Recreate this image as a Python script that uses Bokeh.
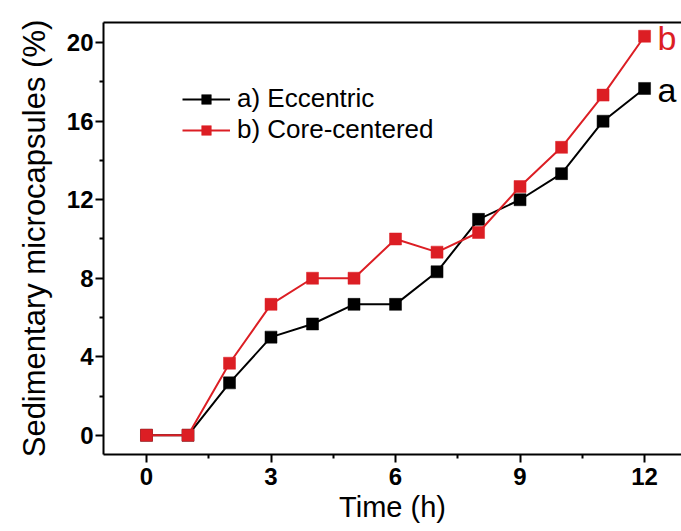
from bokeh.plotting import figure
from bokeh.models import LinearAxis, Range1d, FixedTicker, Legend, LegendItem, ColumnDataSource
from bokeh.core.properties import value
from bokeh.embed import file_html
from bokeh.resources import INLINE

# Data
time_h = [0, 1, 2, 3, 4, 5, 6, 7, 8, 9, 10, 11, 12]
eccentric = [0, 0, 2.67, 5.0, 5.67, 6.67, 6.67, 8.33, 11.0, 12.0, 13.33, 16.0, 17.67]
core_centered = [0, 0, 3.67, 6.67, 8.0, 8.0, 10.0, 9.33, 10.33, 12.67, 14.67, 17.33, 20.33]
x_ticks = [0, 3, 6, 9, 12]
y_ticks = [0, 4, 8, 12, 16, 20]
series_names = ["a) Eccentric", "b) Core-centered"]
end_labels = ["a", "b"]

BLACK = "#000000"
RED = "#dc1e24"
FONT = "Liberation Sans"

p = figure(width=681, height=531, output_backend="svg", toolbar_location=None,
           x_range=Range1d(-1.036, 12.89), y_range=Range1d(-0.98, 21.03),
           min_border_left=103, min_border_right=0, min_border_top=22, min_border_bottom=77)
p.outline_line_color = None
p.grid.visible = False
p.background_fill_color = "white"
p.border_fill_color = "white"

src_a = ColumnDataSource(dict(x=time_h, y=eccentric))
src_b = ColumnDataSource(dict(x=time_h, y=core_centered))

la = p.line("x", "y", source=src_a, line_color=BLACK, line_width=2)
sa = p.scatter("x", "y", source=src_a, marker="square", size=12, fill_color=BLACK, line_color=BLACK, line_width=0.5)
lb = p.line("x", "y", source=src_b, line_color=RED, line_width=2)
sb = p.scatter("x", "y", source=src_b, marker="square", size=12, fill_color=RED, line_color=RED, line_width=0.5)

# end labels
end_src = ColumnDataSource(dict(x=[time_h[-1], time_h[-1]], y=[eccentric[-1], core_centered[-1]],
                                t=end_labels, c=[BLACK, RED]))
p.text("x", "y", text="t", source=end_src, text_color="c", x_offset=13, y_offset=2,
       text_baseline="middle", text_align="left", text_font=value(FONT), text_font_size="34px")

# axes styling
for ax in (p.xaxis[0], p.yaxis[0]):
    ax.axis_line_width = 2
    ax.axis_line_color = BLACK
    ax.major_tick_line_width = 2
    ax.minor_tick_line_width = 2
    ax.major_tick_out = 8
    ax.major_tick_in = 0
    ax.minor_tick_out = 4
    ax.minor_tick_in = 0
    ax.major_label_text_font = FONT
    ax.major_label_text_font_style = "bold"
    ax.major_label_text_font_size = "24px"
    ax.major_label_text_color = BLACK
    ax.axis_label_text_font = FONT
    ax.axis_label_text_font_style = "normal"
    ax.axis_label_text_color = BLACK

p.xaxis[0].ticker = FixedTicker(ticks=x_ticks, minor_ticks=[1.5, 4.5, 7.5, 10.5])
p.yaxis[0].ticker = FixedTicker(ticks=y_ticks, minor_ticks=[2, 6, 10, 14, 18])
p.xaxis[0].axis_label = "Time (h)"
p.xaxis[0].axis_label_text_font_size = "29px"
p.xaxis[0].axis_label_standoff = 3
p.xaxis[0].major_label_standoff = 5
p.yaxis[0].axis_label = "Sedimentary microcapsules (%)"
p.yaxis[0].axis_label_text_font_size = "31px"
p.yaxis[0].axis_label_standoff = 12
p.yaxis[0].major_label_standoff = 2

top = LinearAxis(major_tick_line_color=None, minor_tick_line_color=None,
                 major_label_text_font_size="0px", axis_line_width=2, axis_line_color=BLACK,
                 ticker=FixedTicker(ticks=[]))
p.add_layout(top, "above")

legend = Legend(items=[LegendItem(label=series_names[0], renderers=[la, sa]),
                       LegendItem(label=series_names[1], renderers=[lb, sb])],
                location=(79, 309), orientation="vertical",
                label_text_font=FONT, label_text_font_size="26px", label_text_color=BLACK,
                glyph_width=48, glyph_height=24, label_height=24, spacing=0,
                label_standoff=7, padding=0, margin=0,
                border_line_color=None, background_fill_alpha=0)
p.add_layout(legend, "center")

open("out.html", "w").write(file_html(p, INLINE))
